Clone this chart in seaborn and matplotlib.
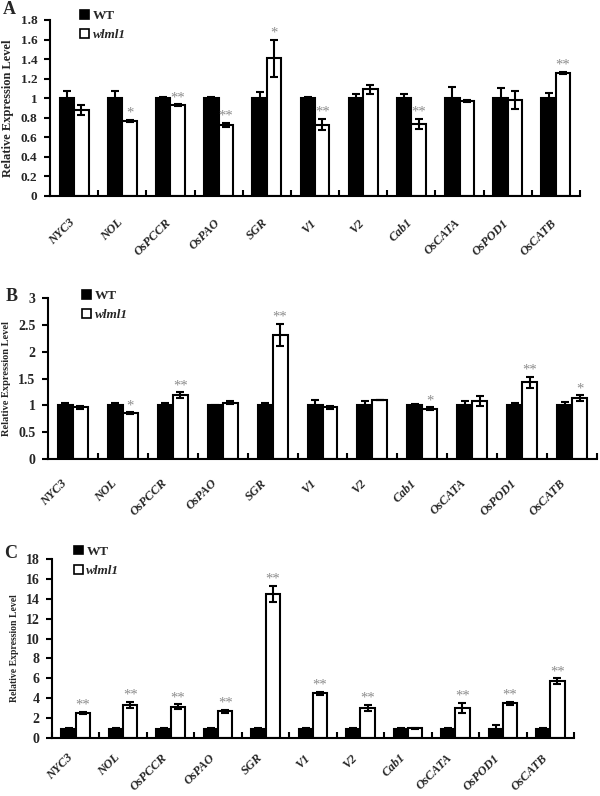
import matplotlib
matplotlib.use("Agg")
import matplotlib.pyplot as plt
from matplotlib.patches import Patch
from matplotlib.ticker import FuncFormatter, MultipleLocator, FixedLocator
from matplotlib.transforms import ScaledTranslation
import seaborn as sns
import pandas as pd
import numpy as np

genes = ["NYC3", "NOL", "OsPCCR", "OsPAO", "SGR", "V1", "V2", "Cab1", "OsCATA", "OsPOD1", "OsCATB"]
genotypes = ["WT", "wlml1"]

# Panel A
a_wt = [1.0, 1.0, 1.0, 1.0, 1.0, 1.0, 1.0, 1.0, 1.0, 1.0, 1.0]
a_wt_err = [0.07, 0.07, 0.01, 0.01, 0.06, 0.01, 0.04, 0.04, 0.11, 0.10, 0.05]
a_mut = [0.88, 0.77, 0.93, 0.73, 1.41, 0.73, 1.09, 0.74, 0.97, 0.98, 1.26]
a_mut_err = [0.05, 0.01, 0.01, 0.02, 0.19, 0.06, 0.05, 0.05, 0.01, 0.09, 0.01]
a_sig = ["", "*", "**", "**", "*", "**", "", "**", "", "", "**"]

# Panel B
b_wt = [1.0, 1.0, 1.0, 1.0, 1.0, 1.0, 1.0, 1.0, 1.0, 1.0, 1.0]
b_wt_err = [0.05, 0.05, 0.05, 0.01, 0.05, 0.10, 0.08, 0.02, 0.08, 0.04, 0.07]
b_mut = [0.96, 0.85, 1.19, 1.05, 2.31, 0.96, 1.10, 0.94, 1.08, 1.43, 1.14]
b_mut_err = [0.02, 0.02, 0.05, 0.03, 0.21, 0.03, 0.0, 0.02, 0.09, 0.10, 0.05]
b_sig = ["", "*", "**", "", "**", "", "", "*", "", "**", "*"]

# Panel C
c_wt = [0.95, 0.95, 0.95, 0.95, 0.95, 0.95, 0.95, 0.95, 0.95, 0.95, 0.95]
c_wt_err = [0.05, 0.1, 0.05, 0.1, 0.1, 0.05, 0.1, 0.05, 0.1, 0.35, 0.05]
c_mut = [2.55, 3.35, 3.15, 2.68, 14.5, 4.5, 3.05, 1.0, 3.05, 3.5, 5.7]
c_mut_err = [0.1, 0.3, 0.25, 0.15, 0.8, 0.15, 0.3, 0.05, 0.5, 0.15, 0.3]
c_sig = ["**", "**", "**", "**", "**", "**", "**", "", "**", "**", "**"]

sns.set_theme(style="white")
plt.rcParams["font.family"] = ["Liberation Serif", "DejaVu Serif"]
plt.rcParams["font.weight"] = "bold"
plt.rcParams["axes.labelweight"] = "bold"

fig = plt.figure(figsize=(6.0, 7.96), dpi=100)

panels = [
    dict(letter="A", wt=a_wt, wte=a_wt_err, mut=a_mut, mte=a_mut_err, sig=a_sig,
         rect=[50/600, 1-196/796, 530/600, 176/796], ymax=1.8, step=0.2,
         ylabfs=9, tickfs=9.5, letter_xy=(9, 10), legxy=(0.057, 1.057),
         lab_dx=-5, lab_pad=15),
    dict(letter="B", wt=b_wt, wte=b_wt_err, mut=b_mut, mte=b_mut_err, sig=b_sig,
         rect=[48/600, 1-459/796, 549/600, 161/796], ymax=3.0, step=0.5,
         ylabfs=7.5, tickfs=10, letter_xy=(12, 296), legxy=(0.062, 1.05),
         lab_dx=-12, lab_pad=13),
    dict(letter="C", wt=c_wt, wte=c_wt_err, mut=c_mut, mte=c_mut_err, sig=c_sig,
         rect=[52/600, 1-738/796, 522/600, 179/796], ymax=18, step=2,
         ylabfs=7, tickfs=10, letter_xy=(11, 553), legxy=(0.042, 1.075),
         lab_dx=-9, lab_pad=10),
]

for p in panels:
    ax = fig.add_axes(p["rect"])
    df = pd.DataFrame({
        "gene": genes * 2,
        "genotype": ["WT"] * len(genes) + ["wlml1"] * len(genes),
        "value": list(p["wt"]) + list(p["mut"]),
    })
    sns.barplot(data=df, x="gene", y="value", hue="genotype", order=genes,
                hue_order=genotypes, palette={"WT": "black", "wlml1": "white"},
                edgecolor="black", linewidth=1.5, width=0.6, gap=0,
                errorbar=None, legend=False, ax=ax)
    errs = [p["wte"], p["mte"]]
    vals = [p["wt"], p["mut"]]
    for ci, cont in enumerate(ax.containers[:2]):
        xs = [b.get_x() + b.get_width() / 2 for b in cont]
        ax.errorbar(xs, vals[ci], yerr=errs[ci], fmt="none", ecolor="black",
                    elinewidth=1.5, capsize=3, capthick=1.5, zorder=5)
        if ci == 1:
            for x, v, e, s in zip(xs, vals[ci], errs[ci], p["sig"]):
                if s:
                    ax.annotate(s, (x, v + e), xytext=(0, 0), textcoords="offset points",
                                ha="center", va="bottom", color="#8c8c8c",
                                fontsize=10.5, fontweight="normal")
    ax.set_xlim(-0.5, len(genes) - 0.5)
    ax.set_ylim(0, p["ymax"])
    ax.yaxis.set_major_locator(MultipleLocator(p["step"]))
    ax.yaxis.set_major_formatter(FuncFormatter(lambda v, pos: "%g" % round(v, 2)))
    ax.set_xlabel("")
    ax.set_ylabel("Relative Expression Level", fontsize=p["ylabfs"], fontweight="bold",
                  labelpad=5)
    for side in ["top", "right"]:
        ax.spines[side].set_visible(False)
    for side in ["left", "bottom"]:
        ax.spines[side].set_color("black")
        ax.spines[side].set_linewidth(1.5)
    ax.tick_params(axis="y", direction="out", length=4, width=1.5, color="black",
                   labelsize=p["tickfs"], left=True, pad=5)
    for t in ax.get_yticklabels():
        t.set_fontweight("bold")
    ax.xaxis.set_minor_locator(FixedLocator(np.arange(-0.5, len(genes), 1.0)))
    ax.tick_params(axis="x", which="minor", direction="in", length=4, width=1.5,
                   color="black", bottom=True)
    ax.tick_params(axis="x", which="major", length=0, pad=p["lab_pad"])
    ax.set_xticks(range(len(genes)))
    ax.set_xticklabels(genes, rotation=45, ha="right", rotation_mode="anchor",
                       fontsize=9, fontweight="bold", fontstyle="italic")
    off = ScaledTranslation(p["lab_dx"] / 100, 0, fig.dpi_scale_trans)
    for t in ax.get_xticklabels():
        t.set_transform(t.get_transform() + off)
    handles = [Patch(facecolor="black", edgecolor="black", linewidth=1.2),
               Patch(facecolor="white", edgecolor="black", linewidth=1.2)]
    leg = ax.legend(handles, genotypes, loc="upper left", bbox_to_anchor=p["legxy"],
                    frameon=False, fontsize=9.5, handlelength=0.65, handleheight=0.65,
                    handletextpad=0.3, labelspacing=0.55, borderaxespad=0, borderpad=0)
    for i, t in enumerate(leg.get_texts()):
        t.set_fontweight("bold")
        if i == 1:
            t.set_fontstyle("italic")
    fig.text(p["letter_xy"][0] / 600, 1 - p["letter_xy"][1] / 796, p["letter"],
             fontsize=13, fontweight="bold", ha="center", va="center")

fig.savefig("out.png", dpi=100)
